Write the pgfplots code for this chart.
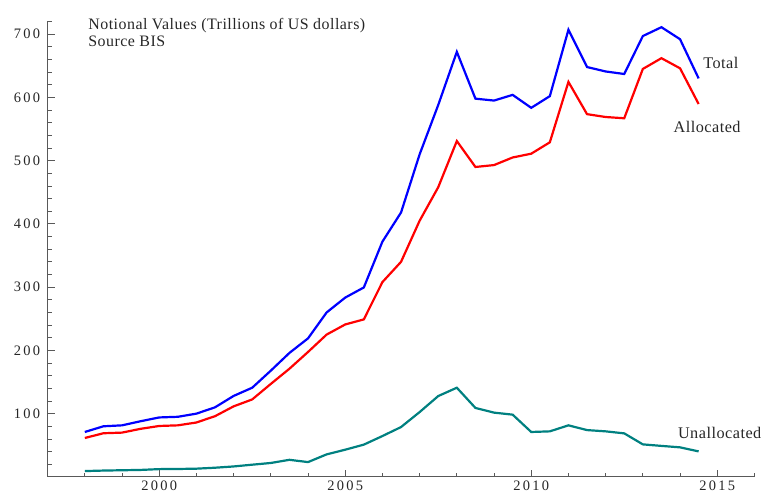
\documentclass[border=0pt]{standalone}
\usepackage{fontspec}
\setmainfont{Liberation Serif}[LetterSpace=3]
\newfontfamily\tickfont{Liberation Serif}[LetterSpace=16]
\usepackage{pgfplots}
\pgfplotsset{compat=1.18}
\definecolor{unalloc}{rgb}{0,0.5,0.5}

\begin{document}
\begin{tikzpicture}
\begin{axis}[
  scale only axis,
  width=707bp, height=455.5bp,
  xmin=1997, xmax=2016, ymin=0, ymax=720,
  axis lines=left,
  axis line style={-, black!65, line width=0.8bp},
  tick style={black!65, line width=0.8bp},
  tick align=inside,
  major tick length=7bp, minor tick length=4bp,
  xtick={2000,2005,2010,2015},
  minor xtick={1998,1999,2001,2002,2003,2004,2006,2007,2008,2009,2011,2012,2013,2014,2016},
  ytick={100,200,300,400,500,600,700},
  minor ytick={20,40,60,80,120,140,160,180,220,240,260,280,320,340,360,380,420,440,460,480,520,540,560,580,620,640,660,680,720},
  /pgf/number format/assume math mode=true,
  xticklabel style={/pgf/number format/1000 sep={}},
  tick label style={font=\tickfont\fontsize{14.5}{16}\selectfont, text=black!85},
  yticklabel style={xshift=-4bp},
  clip=false,
]
% total
\addplot[blue, line width=2.2bp] coordinates {
(1998.0,71) (1998.5,80) (1999.0,81.5) (1999.5,88) (2000.0,94) (2000.5,95)
(2001.0,100) (2001.5,110) (2002.0,128) (2002.5,141) (2003.0,168) (2003.5,196)
(2004.0,219) (2004.5,260) (2005.0,283.5) (2005.5,299.5) (2006.0,372) (2006.5,418)
(2007.0,510) (2007.5,588) (2008.0,672) (2008.5,598) (2009.0,595) (2009.5,604)
(2010.0,583.5) (2010.5,602) (2011.0,707) (2011.5,648) (2012.0,641) (2012.5,637)
(2013.0,697) (2013.5,711) (2014.0,692) (2014.5,630)};
% allocated
\addplot[red, line width=2.2bp] coordinates {
(1998.0,61.5) (1998.5,69) (1999.0,70) (1999.5,76) (2000.0,80.5) (2000.5,81.5)
(2001.0,86) (2001.5,96) (2002.0,111.5) (2002.5,122.5) (2003.0,147) (2003.5,171)
(2004.0,197.5) (2004.5,225) (2005.0,241) (2005.5,249) (2006.0,308) (2006.5,340)
(2007.0,405) (2007.5,458) (2008.0,531) (2008.5,490) (2009.0,493) (2009.5,505)
(2010.0,511) (2010.5,529) (2011.0,624.5) (2011.5,573.5) (2012.0,569) (2012.5,567)
(2013.0,645) (2013.5,662) (2014.0,646) (2014.5,589.5)};
% unallocated
\addplot[unalloc, line width=2.2bp] coordinates {
(1998.0,9.2) (1998.5,10) (1999.0,10.5) (1999.5,11) (2000.0,12.3) (2000.5,12.5)
(2001.0,13) (2001.5,14.5) (2002.0,16.5) (2002.5,19.3) (2003.0,22) (2003.5,27)
(2004.0,23.4) (2004.5,35.6) (2005.0,43) (2005.5,51) (2006.0,64.6) (2006.5,78.8)
(2007.0,102.5) (2007.5,127.8) (2008.0,141) (2008.5,109) (2009.0,101.6) (2009.5,98.4)
(2010.0,71) (2010.5,72) (2011.0,81.5) (2011.5,74) (2012.0,72) (2012.5,68.8)
(2013.0,51.4) (2013.5,49) (2014.0,46.7) (2014.5,40.3)};

\node[anchor=north west, align=left, inner sep=0pt, font=\fontsize{16}{17}\selectfont, text=black!85]
  at (axis cs:1998.09,726) {Notional Values (Trillions of US dollars)\\Source BIS};
\node[anchor=west, inner sep=0pt, font=\fontsize{16.3}{18}\selectfont, text=black!85] at (axis cs:2014.62,654) {Total};
\node[anchor=west, inner sep=0pt, font=\fontsize{16.3}{18}\selectfont, text=black!85] at (axis cs:2013.82,553) {Allocated};
\node[anchor=west, inner sep=0pt, font=\fontsize{16.3}{18}\selectfont, text=black!85] at (axis cs:2013.94,69) {Unallocated};
% page frame matching the reference margins
\coordinate (bbsw) at (axis cs:1995.72,-26.1);
\coordinate (bbne) at (axis cs:2016.23,754);
\end{axis}
\pgfresetboundingbox
\path (bbsw) rectangle (bbne);
\end{tikzpicture}
\end{document}
